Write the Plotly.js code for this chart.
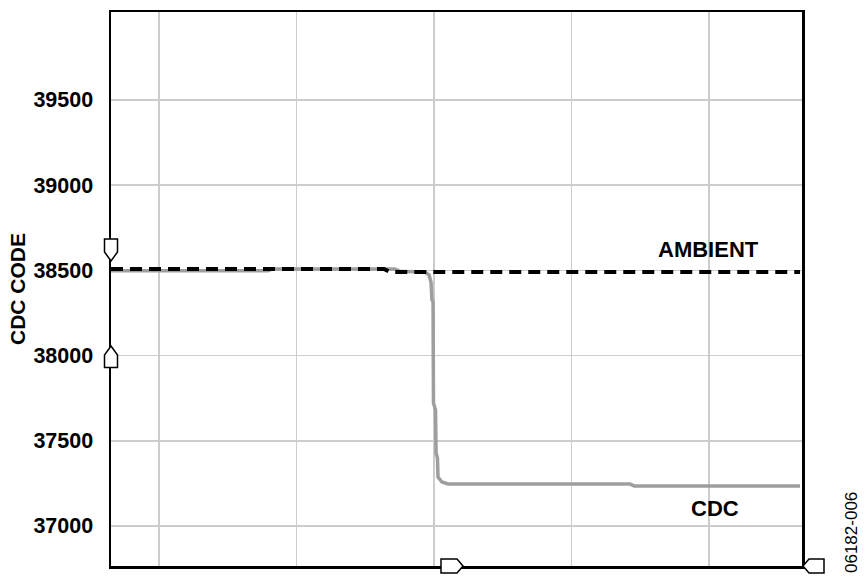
<!DOCTYPE html>
<html>
<head>
<meta charset="utf-8">
<script src="https://cdn.plot.ly/plotly-3.0.1.min.js"></script>
<style>
html,body{margin:0;padding:0;background:#fff;}
#chart{width:866px;height:586px;}
</style>
</head>
<body>
<div id="chart"></div>
<script>
// Time axis (arbitrary units, gridlines at 1..5, no labels)
const ambientTime = [0.651, 2.636, 2.68, 5.662];
const ambientCode = [38508, 38508, 38490, 38490];

const cdcTime = [0.651, 1.793, 1.822, 2.716, 2.753, 2.935, 2.964, 2.978, 2.985, 2.993, 2.996, 3.011, 3.015, 3.025, 3.029, 3.058, 3.102, 3.189, 4.425, 4.455, 5.662];
const cdcCode = [38497, 38497, 38508, 38508, 38494, 38490, 38473, 38432, 38326, 38315, 37722, 37681, 37428, 37399, 37287, 37258, 37246, 37246, 37246, 37235, 37235];

const yTicks = [37000, 37500, 38000, 38500, 39000, 39500];
const yTickText = ['37000', '37500', '38000', '38500', '39000', '39500'];
const xGrid = [1, 2, 3, 4, 5];

const FONT = '"Liberation Sans", Arial, sans-serif';

const traces = [
  {
    x: cdcTime, y: cdcCode, type: 'scatter', mode: 'lines', name: 'CDC',
    line: {color: '#9e9e9e', width: 3.5}, hoverinfo: 'skip'
  },
  {
    x: ambientTime, y: ambientCode, type: 'scatter', mode: 'lines', name: 'AMBIENT',
    line: {color: '#000000', width: 4, dash: '12px,7px'}, hoverinfo: 'skip'
  }
];

const markerStyle = {fillcolor: '#ffffff', line: {color: '#000000', width: 1.5}, layer: 'above'};
const shapes = [
  Object.assign({type: 'path', xref: 'paper', yref: 'paper', xsizemode: 'pixel', ysizemode: 'pixel',
    xanchor: 0, yanchor: 0.5704, path: 'M-6.5,11 L6.5,11 L6.5,-2 L0,-11 L-6.5,-2 Z'}, markerStyle),
  Object.assign({type: 'path', xref: 'paper', yref: 'paper', xsizemode: 'pixel', ysizemode: 'pixel',
    xanchor: 0, yanchor: 0.3773, path: 'M0,11 L6.5,2 L6.5,-10.5 L-6.5,-10.5 L-6.5,2 Z'}, markerStyle),
  Object.assign({type: 'path', xref: 'paper', yref: 'paper', xsizemode: 'pixel', ysizemode: 'pixel',
    xanchor: 0.4935, yanchor: 0, path: 'M-11,7 L5,7 L11,0 L5,-7 L-11,-7 Z'}, markerStyle),
  Object.assign({type: 'path', xref: 'paper', yref: 'paper', xsizemode: 'pixel', ysizemode: 'pixel',
    xanchor: 1, yanchor: 0, path: 'M1,0 L7,7 L22,7 L22,-7 L7,-7 Z'}, markerStyle)
];

const layout = {
  width: 866, height: 586,
  margin: {l: 111, r: 64, t: 12, b: 20},
  paper_bgcolor: '#ffffff', plot_bgcolor: '#ffffff',
  showlegend: false,
  font: {family: FONT, color: '#000'},
  xaxis: {
    range: [0.651, 5.676], tickvals: xGrid, showticklabels: false, ticks: '',
    showgrid: true, gridcolor: '#cccccc', gridwidth: 1.5, zeroline: false,
    showline: true, linecolor: '#000', linewidth: 2.5, mirror: true
  },
  yaxis: {
    range: [36765, 40016], tickvals: yTicks, ticktext: yTickText, ticks: '',
    tickfont: {family: FONT, size: 21.5, weight: 'bold', color: '#000'},
    ticklabelstandoff: 11,
    showgrid: true, gridcolor: '#cccccc', gridwidth: 1.5, zeroline: false,
    showline: true, linecolor: '#000', linewidth: 2.5, mirror: true
  },
  shapes: shapes,
  annotations: [
    {x: -0.136, y: 0.5, xref: 'paper', yref: 'paper', xanchor: 'center', yanchor: 'middle',
     text: 'CDC CODE', showarrow: false, textangle: -90,
     font: {family: FONT, size: 21, weight: 'bold', color: '#000'}},
    {x: 4.993, y: 38625, xref: 'x', yref: 'y', text: 'AMBIENT', showarrow: false,
     font: {family: FONT, size: 22, weight: 'bold', color: '#000'}},
    {x: 5.044, y: 37100, xref: 'x', yref: 'y', text: 'CDC', showarrow: false,
     font: {family: FONT, size: 22, weight: 'bold', color: '#000'}},
    {x: 1.0724, y: 0.0596, xref: 'paper', yref: 'paper', xanchor: 'center', yanchor: 'middle',
     text: '06182-006', showarrow: false, textangle: -90,
     font: {family: FONT, size: 17, color: '#000'}}
  ]
};

Plotly.newPlot('chart', traces, layout, {staticPlot: true, displayModeBar: false});
</script>
</body>
</html>
